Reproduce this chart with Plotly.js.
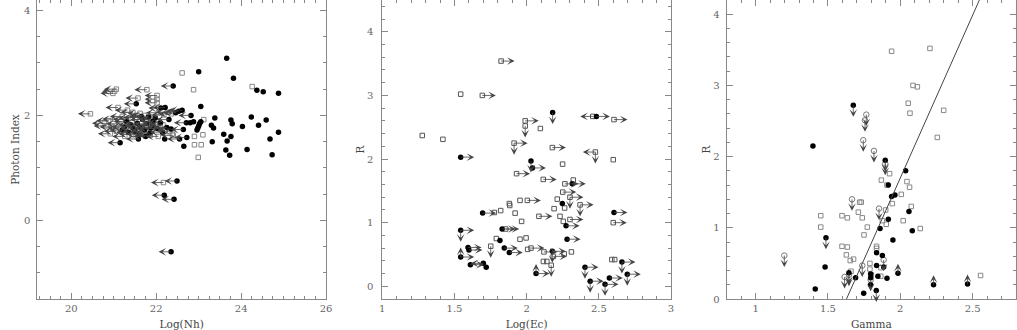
<!DOCTYPE html>
<html>
<head>
<meta charset="utf-8">
<script src="https://cdn.plot.ly/plotly-3.0.1.min.js"></script>
<style>
  html, body { margin: 0; padding: 0; background: #fff; }
  #chart { width: 1017px; height: 330px; }
</style>
</head>
<body>
<div id="chart"></div>
<script>
// ---------------------------------------------------------------
// Panel 1: photon index vs log(Nh)
// ---------------------------------------------------------------
// detections (filled circles)
const nhCirc = [23.66, 23.00, 23.82, 24.37, 24.52, 24.88, 23.05, 23.38, 23.76, 24.24,
                24.59, 23.79, 24.41, 24.03, 23.30, 23.35, 22.96, 22.98, 23.00, 23.02,
                23.05, 22.88, 22.80, 23.59, 23.76, 23.67, 23.32, 24.88, 24.68, 24.14,
                23.64, 23.73, 24.73, 22.65, 22.20];
const gamCirc = [3.09, 2.83, 2.71, 2.48, 2.45, 2.42, 2.17, 1.95, 1.91, 1.97,
                 1.91, 1.84, 1.81, 1.79, 1.81, 1.76, 1.72, 1.76, 1.80, 1.84,
                 1.88, 1.88, 1.86, 1.64, 1.60, 1.51, 1.50, 1.68, 1.55, 1.35,
                 1.34, 1.24, 1.25, 1.41, 1.55];
// Nh upper limits (filled circles with arrow)
const nhCircLim = [22.40, 21.53, 22.11, 22.21, 22.46, 22.53, 22.61, 22.30, 22.25, 22.35,
                   21.92, 21.92, 21.15, 21.58, 21.30, 21.40, 21.45, 21.50, 21.55, 21.62,
                   21.68, 21.72, 21.78, 21.82, 21.85, 21.98, 22.02, 22.10, 22.15, 21.25,
                   21.35, 21.20, 21.60, 21.75, 22.71, 22.64, 22.72, 22.55, 22.82, 21.88,
                   21.65, 22.49, 22.19, 22.42, 22.35];
const gamCircLim = [2.56, 2.22, 2.14, 2.15, 2.05, 2.08, 2.10, 1.92, 1.77, 1.74,
                    1.81, 1.89, 1.48, 1.55, 1.88, 1.82, 1.76, 1.70, 1.85, 1.78,
                    1.92, 1.72, 1.84, 1.97, 1.66, 1.95, 1.75, 1.86, 1.68, 1.78,
                    1.68, 1.72, 1.64, 1.60, 1.86, 1.73, 1.58, 1.55, 2.00, 1.76,
                    1.98, 0.75, 0.48, 0.40, -0.60];
// open squares
const nhSq = [22.61, 22.88, 24.26, 23.10, 22.90, 23.06, 22.99, 23.12, 22.90, 22.38, 22.30];
const gamSq = [2.81, 2.49, 2.55, 1.63, 1.44, 1.44, 1.20, 1.92, 1.60, 1.64, 1.69];
const nhSqLim = [20.45, 21.06, 21.02, 20.98, 21.78, 21.57, 22.02, 22.02, 22.02, 21.10,
                 21.32, 21.45, 21.62, 21.20, 20.88, 20.78, 20.82, 21.02, 21.28, 21.52,
                 21.72, 21.88, 22.05, 22.18, 22.28, 22.36, 21.98, 21.78, 21.66, 21.42,
                 21.26, 21.06, 20.96, 21.86, 22.05, 22.16, 22.32, 22.40, 21.55, 21.15,
                 20.92, 21.82, 22.10, 22.17, 21.40, 21.12];
const gamSqLim = [2.03, 2.50, 2.46, 2.42, 2.49, 2.33, 2.38, 2.31, 2.24, 2.15,
                  2.10, 2.06, 2.04, 1.98, 1.90, 1.85, 1.80, 1.93, 1.92, 1.96,
                  2.00, 1.93, 2.05, 2.01, 2.06, 2.03, 1.84, 1.76, 1.68, 1.64,
                  1.60, 1.70, 1.78, 1.62, 1.60, 1.82, 1.70, 1.62, 1.80, 1.76,
                  1.65, 1.68, 1.78, 0.72, 1.95, 1.84];

// ---------------------------------------------------------------
// Panel 2: R vs log(Ec)   limit codes: r,l,u,d = arrow direction
// ---------------------------------------------------------------
const ecCirc = [1.543, 2.18, 2.483, 2.03, 2.04, 2.316, 2.247, 1.695, 2.605, 2.273,
                1.543, 1.83, 1.815, 2.28, 1.543, 1.594, 1.60, 1.61, 1.70, 1.72,
                1.845, 1.88, 2.178, 2.065, 2.404, 2.44, 2.543, 2.573, 2.66, 2.697];
const rEcCirc = [2.03, 2.73, 2.67, 1.97, 1.86, 1.61, 1.30, 1.15, 1.16, 0.95,
                 0.88, 0.90, 0.72, 0.74, 0.46, 0.61, 0.57, 0.34, 0.36, 0.30,
                 0.60, 0.53, 0.55, 0.20, 0.30, 0.08, 0.03, 0.13, 0.38, 0.19];
const limEcCirc = ['r', 'd', 'r', 'd', 'r', 'r', '', 'r', 'r', 'r',
                   'rd', 'r', '', 'r', 'ru', 'r', 'r', 'r', 'l', '',
                   'r', 'r', 'rd', 'ru', 'rd', 'rd', 'rd', 'r', 'rd', 'rd'];
const ecSq = [1.823, 1.543, 1.693, 1.277, 1.42, 2.458, 2.605, 1.99, 1.99, 2.095,
              1.913, 2.178, 2.476, 2.60, 2.249, 1.93, 2.115, 2.323, 2.265, 2.25,
              2.30, 2.37, 2.212, 2.005, 1.954, 1.88, 1.92, 1.965, 1.82, 1.776,
              2.19, 2.263, 2.231, 2.254, 2.085, 2.30, 2.60, 1.855, 1.79, 1.954,
              1.996, 1.751, 2.03, 2.007, 2.116, 2.14, 2.185, 2.31, 2.26, 2.17,
              2.59, 2.61, 1.883, 2.12];
const rEcSq = [3.54, 3.02, 3.00, 2.37, 2.31, 2.67, 2.62, 2.60, 2.52, 2.48,
               2.25, 2.18, 2.11, 1.99, 1.92, 1.77, 1.68, 1.67, 1.61, 1.48,
               1.40, 1.28, 1.37, 1.35, 1.35, 1.30, 1.15, 1.02, 1.19, 1.16,
               1.22, 1.23, 1.10, 1.02, 1.10, 1.05, 1.00, 0.90, 0.75, 0.74,
               0.76, 0.63, 0.60, 0.58, 0.39, 0.39, 0.47, 0.54, 0.51, 0.33,
               0.42, 0.42, 1.27, 0.54];
const limEcSq = ['r', '', 'r', '', '', 'l', 'r', 'r', 'd', '',
                 'rd', 'r', 'ld', '', '', 'r', 'r', '', 'r', 'r',
                 'rd', 'rd', '', 'r', '', '', '', '', '', '',
                 '', '', '', '', 'r', 'r', 'r', 'r', '', '',
                 '', 'd', 'r', '', '', '', 'r', '', '', 'd',
                 '', '', '', 'r'];

// ---------------------------------------------------------------
// Panel 3: R vs Gamma
// ---------------------------------------------------------------
const gSq = [1.94, 2.205, 2.088, 2.118, 2.055, 2.067, 2.30, 2.256, 1.926, 1.869,
             1.908, 2.046, 2.064, 2.007, 1.945, 2.076, 1.899, 2.02, 2.138, 1.903,
             1.876, 1.719, 1.73, 1.71, 1.737, 1.772, 1.749, 1.597, 1.634, 1.45,
             1.45, 1.597, 1.634, 1.627, 1.677, 1.654, 1.836, 1.836, 1.79, 1.866,
             1.79, 1.80, 1.865, 1.659, 2.555];
const rGSq = [3.48, 3.52, 3.00, 2.98, 2.75, 2.61, 2.65, 2.27, 1.76, 1.67,
              1.60, 1.65, 1.57, 1.47, 1.34, 1.30, 1.25, 1.10, 0.99, 1.05,
              1.10, 1.36, 1.36, 1.22, 1.14, 1.01, 0.90, 1.17, 1.14, 1.17,
              1.01, 0.74, 0.73, 0.62, 0.56, 0.54, 0.74, 0.71, 0.50, 0.44,
              0.42, 0.34, 0.32, 0.39, 0.33];
const gCirc = [1.396, 2.037, 1.917, 1.94, 1.963, 2.06, 1.917, 1.86, 2.083, 1.949,
               1.836, 1.876, 1.836, 1.885, 1.845, 1.908, 1.795, 1.795, 1.795, 1.747,
               1.691, 1.48, 1.412, 1.984, 2.23, 2.465, 1.675, 1.896, 1.486, 1.834,
               1.645];
const rGCirc = [2.15, 1.80, 1.60, 1.44, 1.46, 1.23, 1.12, 0.99, 0.96, 0.83,
                0.65, 0.61, 0.47, 0.45, 0.32, 0.29, 0.35, 0.30, 0.20, 0.08,
                0.30, 0.45, 0.14, 0.36, 0.20, 0.21, 2.72, 1.95, 0.86, 0.12,
                0.37];
const limGCirc = ['', '', '', '', '', '', '', '', '', '',
                  '', '', '', '', '', '', '', '', '', '',
                  '', '', '', 'u', 'u', 'u', 'd', 'd', 'd', 'd',
                  'd'];
// R upper limits (open circles)
const gOpen = [1.765, 1.756, 1.744, 1.818, 1.896, 1.666, 1.853, 1.198, 1.737, 1.615,
               1.645, 1.795, 1.885];
const rGOpen = [2.59, 2.51, 2.23, 2.08, 1.90, 1.40, 1.27, 0.61, 0.47, 0.31,
                0.34, 0.27, 0.55];
// linear relation drawn in panel 3
const fitGamma = [1.628, 2.547];
const fitR = [0, 4.2];

// ---------------------------------------------------------------
const ARROW = { r: [15, 0], l: [-14, 0], d: [0, 13], u: [0, -11] };

function limitArrows(xs, ys, codes, axis) {
  const out = [];
  xs.forEach((x, i) => {
    const code = codes[i] || '';
    for (const c of code) {
      const [ax, ay] = ARROW[c];
      out.push({
        x: x, y: ys[i], xref: 'x' + axis, yref: 'y' + axis,
        axref: 'pixel', ayref: 'pixel', ax: ax, ay: ay,
        text: '', showarrow: true, arrowside: 'start',
        startarrowhead: 3, startarrowsize: 1.6, arrowwidth: 0.8,
        arrowcolor: '#444'
      });
    }
  });
  return out;
}

const circ = (x, y, ax) => ({
  x: x, y: y, xaxis: 'x' + ax, yaxis: 'y' + ax, type: 'scatter', mode: 'markers',
  marker: { symbol: 'circle', size: 5.5, color: '#000' }, hoverinfo: 'skip'
});
const sq = (x, y, ax, col) => ({
  x: x, y: y, xaxis: 'x' + ax, yaxis: 'y' + ax, type: 'scatter', mode: 'markers',
  marker: { symbol: 'square-open', size: 4.5, color: col, line: { width: 1, color: col } },
  hoverinfo: 'skip'
});

const traces = [
  sq(nhSq, gamSq, '', '#888'),
  sq(nhSqLim, gamSqLim, '', '#888'),
  circ(nhCirc, gamCirc, ''),
  circ(nhCircLim, gamCircLim, ''),
  sq(ecSq, rEcSq, '2', '#555'),
  circ(ecCirc, rEcCirc, '2'),
  sq(gSq, rGSq, '3', '#888'),
  {
    x: gOpen, y: rGOpen, xaxis: 'x3', yaxis: 'y3', type: 'scatter', mode: 'markers',
    marker: { symbol: 'circle-open', size: 5.5, color: '#777', line: { width: 1 } }, hoverinfo: 'skip'
  },
  circ(gCirc, rGCirc, '3'),
  {
    x: fitGamma, y: fitR, xaxis: 'x3', yaxis: 'y3', type: 'scatter', mode: 'lines',
    line: { color: '#444', width: 1 }, hoverinfo: 'skip'
  }
];

const annotations = []
  .concat(limitArrows(nhCircLim, gamCircLim, nhCircLim.map(() => 'l'), ''))
  .concat(limitArrows(nhSqLim, gamSqLim, nhSqLim.map(() => 'l'), ''))
  .concat(limitArrows(ecCirc, rEcCirc, limEcCirc, '2'))
  .concat(limitArrows(ecSq, rEcSq, limEcSq, '2'))
  .concat(limitArrows(gCirc, rGCirc, limGCirc, '3'))
  .concat(limitArrows(gOpen, rGOpen, gOpen.map(() => 'd'), '3'));

const FONT = 'DejaVu Serif, Liberation Serif, serif';
function axis(domain, range, dtick, minor, title, extra, standoff) {
  return Object.assign({
    domain: domain, range: range, dtick: dtick, tick0: 0,
    showgrid: false, zeroline: false, showline: true, linecolor: '#888', linewidth: 1,
    mirror: 'allticks', ticks: 'inside', ticklen: 6, tickcolor: '#888', tickwidth: 1,
    minor: { dtick: minor, tick0: 0, ticks: 'inside', ticklen: 3, tickcolor: '#888', showgrid: false },
    tickfont: { family: FONT, size: 10, color: '#666' },
    title: { text: title, standoff: standoff, font: { family: FONT, size: 10.5, color: '#444' } },
    automargin: false, fixedrange: true
  }, extra || {});
}

const layout = {
  width: 1017, height: 330,
  margin: { l: 0, r: 0, t: 0, b: 31 },
  paper_bgcolor: '#fff', plot_bgcolor: '#fff',
  showlegend: false,
  xaxis:  axis([0.0367, 0.3206], [19.2, 26], 2, 0.25, 'Log(Nh)', { anchor: 'y' }),
  yaxis:  axis([0, 1], [-1.5, 4.2], 2, 0.5, 'Photon Index', { anchor: 'x', ticklabelstandoff: 4 }, 2),
  xaxis2: axis([0.3759, 0.6598], [1, 3], 0.5, 0.1, 'Log(Ec)', { anchor: 'y2' }),
  yaxis2: axis([0, 1], [-0.2, 4.5], 1, 0.2, 'R', { anchor: 'x2', ticklabelstandoff: 6 }, 0),
  xaxis3: axis([0.7146, 0.999], [0.8, 2.8], 0.5, 0.1, 'Gamma', { anchor: 'y3' }),
  yaxis3: axis([0, 1], [0, 4.2], 1, 0.2, 'R', { anchor: 'x3', ticklabelstandoff: 4 }, 0),
  annotations: annotations
};

Plotly.newPlot('chart', traces, layout, { displayModeBar: false, staticPlot: true });
</script>
</body>
</html>
